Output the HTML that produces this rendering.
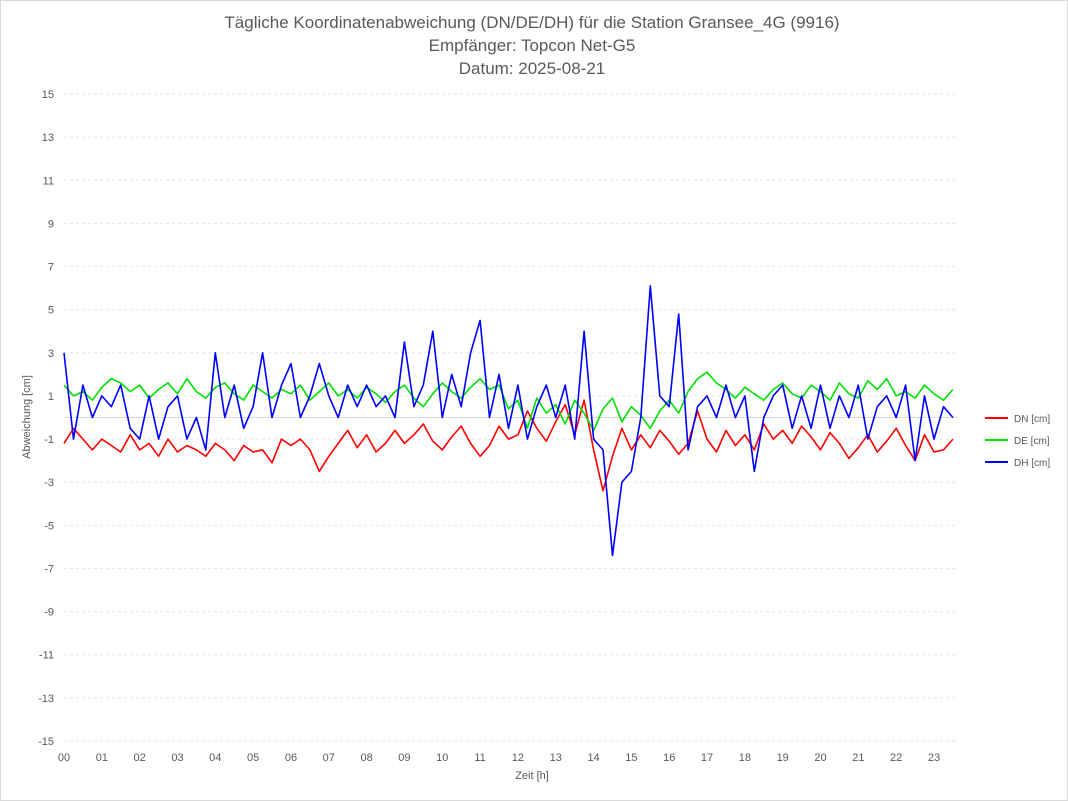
<!DOCTYPE html>
<html><head><meta charset="utf-8"><style>
body{margin:0;background:#fff;font-family:"Liberation Sans",sans-serif}
</style></head><body>
<svg id="c" width="1068" height="801" style="display:block">
<rect x="0.5" y="0.5" width="1067" height="800" fill="#fff" stroke="#d9d9d9"/>
<g font-size="17" fill="#595959" text-anchor="middle">
<text x="532" y="28">Tägliche Koordinatenabweichung (DN/DE/DH) für die Station Gransee_4G (9916)</text>
<text x="532" y="51">Empfänger: Topcon Net-G5</text>
<text x="532" y="74">Datum: 2025-08-21</text>
</g>
<g id="grid"></g><g id="series"></g><g id="axes"></g>
<text x="532" y="779" font-size="11" fill="#595959" text-anchor="middle">Zeit [h]</text>
<text transform="translate(30,417) rotate(-90)" font-size="11" fill="#595959" text-anchor="middle">Abweichung [cm]</text>
<g id="legend"></g>
</svg>
<script>
const hours=["00","01","02","03","04","05","06","07","08","09","10","11","12","13","14","15","16","17","18","19","20","21","22","23"];
const yTicks=[15,13,11,9,7,5,3,1,-1,-3,-5,-7,-9,-11,-13,-15];
const dnValues=[-1.2,-0.5,-1,-1.5,-1,-1.3,-1.6,-0.8,-1.5,-1.2,-1.8,-1,-1.6,-1.3,-1.5,-1.8,-1.2,-1.5,-2,-1.3,-1.6,-1.5,-2.1,-1,-1.3,-1,-1.5,-2.5,-1.8,-1.2,-0.6,-1.4,-0.8,-1.6,-1.2,-0.6,-1.2,-0.8,-0.3,-1.1,-1.5,-0.9,-0.4,-1.2,-1.8,-1.3,-0.4,-1,-0.8,0.3,-0.5,-1.1,-0.2,0.6,-0.8,0.8,-1.5,-3.4,-1.8,-0.5,-1.5,-0.8,-1.4,-0.6,-1.1,-1.7,-1.2,0.3,-1,-1.6,-0.6,-1.3,-0.8,-1.5,-0.3,-1,-0.6,-1.2,-0.4,-0.9,-1.5,-0.7,-1.2,-1.9,-1.4,-0.8,-1.6,-1.1,-0.5,-1.3,-2,-0.8,-1.6,-1.5,-1.0];
const deValues=[1.5,1,1.2,0.8,1.4,1.8,1.6,1.2,1.5,0.9,1.3,1.6,1.1,1.8,1.2,0.9,1.4,1.6,1.1,0.8,1.5,1.2,0.9,1.3,1.1,1.5,0.8,1.2,1.6,1,1.3,0.9,1.4,1.1,0.7,1.2,1.5,0.9,0.5,1.1,1.6,1.2,0.9,1.4,1.8,1.3,1.5,0.4,0.8,-0.5,0.9,0.2,0.6,-0.3,0.8,0.2,-0.6,0.4,0.9,-0.2,0.5,0.1,-0.5,0.3,0.8,0.2,1.2,1.8,2.1,1.6,1.3,0.9,1.4,1.1,0.8,1.3,1.6,1.1,0.9,1.5,1.2,0.8,1.6,1.1,0.9,1.7,1.3,1.8,1.0,1.2,0.9,1.5,1.1,0.8,1.3];
const dhValues=[3,-1,1.5,0,1,0.5,1.5,-0.5,-1,1,-1,0.5,1,-1,0,-1.5,3,0,1.5,-0.5,0.5,3,0,1.5,2.5,0,1,2.5,1,0,1.5,0.5,1.5,0.5,1,0,3.5,0.5,1.5,4,0,2,0.5,3,4.5,0,2,-0.5,1.5,-1,0.5,1.5,0,1.5,-1,4,-1,-1.5,-6.4,-3,-2.5,0,6.1,1,0.5,4.8,-1.5,0.5,1,0,1.5,0,1,-2.5,0,1,1.5,-0.5,1,-0.5,1.5,-0.5,1,0,1.5,-1,0.5,1,0,1.5,-2,1,-1,0.5,0];
const seriesNames=["DN [cm]","DE [cm]","DH [cm]"];
const seriesColors=["#ff0000","#00e000","#0000ff"];
const NS="http://www.w3.org/2000/svg";
const X0=64,X1=934,Y0=417.5,YS=(741-94)/30;
const xs=h=>X0+(X1-X0)*h/23;
const ys=v=>Y0-v*YS;
function mk(t,a,p){const e=document.createElementNS(NS,t);for(const k in a)e.setAttribute(k,a[k]);p.appendChild(e);return e;}
const grid=document.getElementById('grid'),axes=document.getElementById('axes'),ser=document.getElementById('series'),leg=document.getElementById('legend');
yTicks.forEach(v=>{
 const l=mk('line',{x1:X0,x2:958,y1:ys(v),y2:ys(v),stroke:'#e6e6e6','stroke-dasharray':'3,3'},grid);
 
 
 const t=mk('text',{x:54,y:ys(v)+4,'font-size':11,fill:'#595959','text-anchor':'end'},axes);
 t.textContent=v;
 
 
});
const z=mk('line',{x1:X0,x2:958,y1:Y0,y2:Y0,stroke:'#d9d9d9'},grid);


hours.forEach((h,i)=>{
 const t=mk('text',{x:xs(i),y:761,'font-size':11,fill:'#595959','text-anchor':'middle'},axes);
 t.textContent=h;
 
 
});
[dnValues,deValues,dhValues].forEach((vals,si)=>{
 const pts=vals.map((v,i)=>xs(i*0.25).toFixed(1)+','+ys(v).toFixed(1)).join(' ');
 const p=mk('polyline',{points:pts,fill:'none',stroke:seriesColors[si],'stroke-width':1.6,'stroke-linejoin':'round'},ser);
 
 
 const g=mk('g',{},leg);
 
 
 mk('line',{x1:985,x2:1008,y1:418+si*22,y2:418+si*22,stroke:seriesColors[si],'stroke-width':2},g);
 const t=mk('text',{x:1014,y:422+si*22,'font-size':10,fill:'#595959'},g);
 t.textContent=seriesNames[si];
});
</script>
</body></html>
